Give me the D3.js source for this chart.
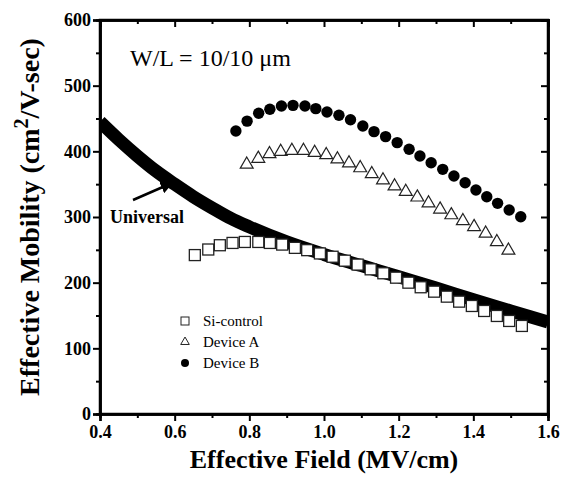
<!DOCTYPE html>
<html><head><meta charset="utf-8">
<script src="https://cdn.jsdelivr.net/npm/d3@7/dist/d3.min.js"></script>
<style>body{margin:0;background:#fff}svg{display:block}</style>
</head><body>
<svg id="chart" width="562" height="477"></svg>
<script>
// ---- data ----
const xTicks = [0.4, 0.6, 0.8, 1.0, 1.2, 1.4, 1.6];
const yTicks = [0, 100, 200, 300, 400, 500, 600];
const xTickLabels = ["0.4", "0.6", "0.8", "1.0", "1.2", "1.4", "1.6"];
const yTickLabels = ["0", "100", "200", "300", "400", "500", "600"];

const universalX = [0.40, 0.45, 0.50, 0.55, 0.60, 0.65, 0.70, 0.75, 0.80, 0.90, 1.00, 1.10, 1.20, 1.30, 1.40, 1.50, 1.60];
const universalY = [445, 418, 393, 370, 350, 331, 314, 298, 285, 262, 243, 226, 209, 192, 174, 157, 140];

const siX = [0.654, 0.690, 0.721, 0.755, 0.788, 0.824, 0.855, 0.888, 0.922, 0.955, 0.989, 1.023, 1.056, 1.090,
             1.125, 1.159, 1.193, 1.226, 1.259, 1.295, 1.329, 1.362, 1.396, 1.429, 1.463, 1.496, 1.530];
const siY = [242, 250.5, 257, 260.5, 262, 262, 260.5, 258, 253, 249.5, 244.5, 239.5, 233.5, 227.5,
             220.3, 214.3, 207.6, 200, 193, 186.3, 178.7, 171.1, 164.5, 156.9, 149.3, 141.7, 134.1];

const devAX = [0.793, 0.824, 0.854, 0.884, 0.914, 0.945, 0.975, 1.006, 1.036, 1.067, 1.097, 1.128, 1.158,
               1.189, 1.219, 1.250, 1.280, 1.311, 1.341, 1.372, 1.402, 1.433, 1.463, 1.494];
const devAY = [380, 389, 396, 399.5, 401, 401, 398, 394.5, 388, 382, 374.6, 365.5, 356,
               347, 338.5, 330, 321, 311.7, 303, 294, 285, 275, 262, 249];

const devBX = [0.764, 0.794, 0.825, 0.855, 0.886, 0.917, 0.949, 0.978, 1.008, 1.040, 1.071, 1.104, 1.134,
               1.165, 1.196, 1.228, 1.257, 1.287, 1.318, 1.348, 1.378, 1.407, 1.436, 1.465, 1.496, 1.527];
const devBY = [431, 446, 458, 464, 469, 470, 469, 465, 460, 455, 448, 438.6, 430,
               422.4, 413.3, 403.2, 393, 382.7, 372.6, 362.4, 352.2, 341.1, 330.9, 320.8, 310.6, 300.4];

const legendLabels = ["Si-control", "Device A", "Device B"];

// ---- layout ----
const W = 562, H = 477;
const m = {left: 100, right: 14, top: 20, bottom: 63};
const pw = W - m.left - m.right, ph = H - m.top - m.bottom;
const serif = "'Liberation Serif','Times New Roman',serif";

const svg = d3.select("#chart");
const g = svg.append("g").attr("transform", `translate(${m.left},${m.top})`);
const x = d3.scaleLinear().domain([0.4, 1.6]).range([0, pw]);
const y = d3.scaleLinear().domain([0, 600]).range([ph, 0]);

const xMinor = d3.range(0.5, 1.6, 0.2);
const yMinor = d3.range(50, 600, 100);

// universal band
g.append("clipPath").attr("id", "clip").append("rect").attr("width", pw).attr("height", ph);
g.append("path")
  .datum(universalX.map((v, i) => [v, universalY[i]]))
  .attr("clip-path", "url(#clip)")
  .attr("fill", "none").attr("stroke", "#000").attr("stroke-width", 13)
  .attr("d", d3.line().x(d => x(d[0])).y(d => y(d[1])).curve(d3.curveMonotoneX));

// axes
function styleAxis(sel) {
  sel.selectAll("path.domain").attr("stroke", "#000").attr("stroke-width", 2.5);
  sel.selectAll(".tick line").attr("stroke", "#000").attr("stroke-width", 2);
  sel.selectAll("text").attr("font-family", serif).attr("font-weight", "bold").attr("font-size", 18).attr("fill", "#000");
}
const xb = g.append("g").attr("transform", `translate(0,${ph})`)
  .call(d3.axisBottom(x).tickValues(xTicks).tickFormat((d, i) => xTickLabels[i]).tickSize(7).tickPadding(4));
styleAxis(xb);
const xbm = g.append("g").attr("transform", `translate(0,${ph})`)
  .call(d3.axisBottom(x).tickValues(xMinor).tickFormat("").tickSize(4));
styleAxis(xbm);
const xt = g.append("g").call(d3.axisBottom(x).tickValues(xTicks).tickFormat("").tickSize(7));
styleAxis(xt);
const xtm = g.append("g").call(d3.axisBottom(x).tickValues(xMinor).tickFormat("").tickSize(4));
styleAxis(xtm);

const yl = g.append("g").call(d3.axisLeft(y).tickValues(yTicks).tickFormat((d, i) => yTickLabels[i]).tickSize(7).tickPadding(2));
styleAxis(yl);
const ylm = g.append("g").call(d3.axisLeft(y).tickValues(yMinor).tickFormat("").tickSize(4));
styleAxis(ylm);
const yr = g.append("g").attr("transform", `translate(${pw},0)`).call(d3.axisLeft(y).tickValues(yTicks).tickFormat("").tickSize(7));
styleAxis(yr);
const yrm = g.append("g").attr("transform", `translate(${pw},0)`).call(d3.axisLeft(y).tickValues(yMinor).tickFormat("").tickSize(4));
styleAxis(yrm);
g.append("rect").attr("width", pw).attr("height", ph).attr("fill", "none").attr("stroke", "#000").attr("stroke-width", 2.5);

// markers
const sq = 11;
g.append("g").selectAll("rect").data(siX.map((v, i) => [v, siY[i]])).join("rect")
  .attr("x", d => x(d[0]) - sq / 2).attr("y", d => y(d[1]) - sq / 2)
  .attr("width", sq).attr("height", sq)
  .attr("fill", "#fff").attr("stroke", "#222").attr("stroke-width", 1.3);

const tri = d3.symbol().type(d3.symbolTriangle).size(72);
g.append("g").selectAll("path").data(devAX.map((v, i) => [v, devAY[i]])).join("path")
  .attr("transform", d => `translate(${x(d[0])},${y(d[1])})`)
  .attr("d", tri).attr("fill", "#fff").attr("stroke", "#222").attr("stroke-width", 1.2);

g.append("g").selectAll("circle").data(devBX.map((v, i) => [v, devBY[i]])).join("circle")
  .attr("cx", d => x(d[0])).attr("cy", d => y(d[1])).attr("r", 5.7).attr("fill", "#000");

// legend
const lg = svg.append("g");
const ly = [321, 342, 363];
lg.append("rect").attr("x", 181).attr("y", ly[0] - 4).attr("width", 8).attr("height", 8)
  .attr("fill", "#fff").attr("stroke", "#222").attr("stroke-width", 1);
lg.append("path").attr("transform", `translate(185,${ly[1]})`).attr("d", d3.symbol().type(d3.symbolTriangle).size(32))
  .attr("fill", "#fff").attr("stroke", "#222").attr("stroke-width", 1);
lg.append("circle").attr("cx", 185).attr("cy", ly[2]).attr("r", 4).attr("fill", "#000");
lg.selectAll("text").data(legendLabels).join("text")
  .attr("x", 203).attr("y", (d, i) => ly[i] + 5)
  .attr("font-family", serif).attr("font-size", 15).attr("fill", "#000").text(d => d);

// annotation
svg.append("text").attr("x", 130).attr("y", 66).attr("font-family", serif).attr("font-size", 24)
  .attr("fill", "#000").text("W/L = 10/10 \u03bcm");

svg.append("text").attr("x", 110).attr("y", 223).attr("font-family", serif).attr("font-weight", "bold")
  .attr("font-size", 18).attr("fill", "#000").text("Universal");
svg.append("defs").append("marker").attr("id", "ah").attr("viewBox", "0 0 10 10").attr("refX", 9).attr("refY", 5)
  .attr("markerWidth", 5).attr("markerHeight", 5).attr("orient", "auto")
  .append("path").attr("d", "M0,0 L10,5 L0,10 z").attr("fill", "#000");
svg.append("line").attr("x1", 133).attr("y1", 200).attr("x2", 172).attr("y2", 183)
  .attr("stroke", "#000").attr("stroke-width", 2.5).attr("marker-end", "url(#ah)");

// axis titles
svg.append("text").attr("x", m.left + pw / 2).attr("y", 468).attr("text-anchor", "middle")
  .attr("font-family", serif).attr("font-weight", "bold").attr("font-size", 26).attr("fill", "#000")
  .text("Effective Field (MV/cm)");
const yt = svg.append("text").attr("transform", `translate(39,${m.top + ph / 2}) rotate(-90)`)
  .attr("text-anchor", "middle").attr("font-family", serif).attr("font-weight", "bold")
  .attr("font-size", 28).attr("fill", "#000");
yt.append("tspan").text("Effective Mobility (cm");
yt.append("tspan").attr("dy", -11).attr("font-size", 20).text("2");
yt.append("tspan").attr("dy", 11).text("/V-sec)");
</script>
</body></html>
